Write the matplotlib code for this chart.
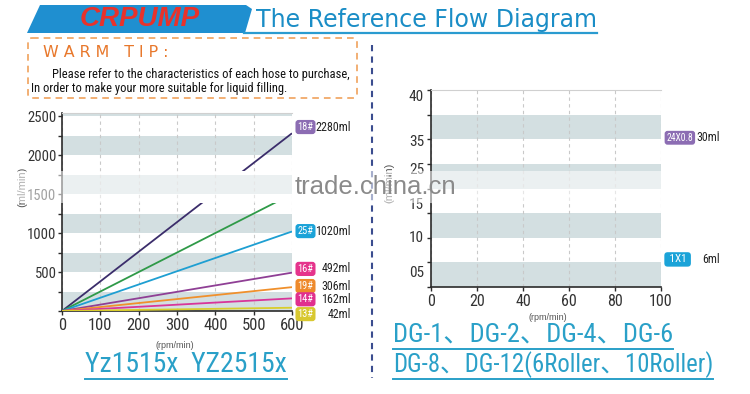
import matplotlib
matplotlib.use("Agg")
import numpy as np
import matplotlib.pyplot as plt
from matplotlib import font_manager as fm
from matplotlib.path import Path
from matplotlib.patches import Polygon, Rectangle, FancyBboxPatch

installed = {f.name for f in fm.fontManager.ttflist}
NARROW = "DejaVu Sans"
for cand in ["Liberation Sans Narrow", "Roboto Condensed", "Archivo Narrow", "PT Sans Narrow"]:
    if cand in installed:
        NARROW = cand
        break
NK = dict(family=NARROW)
SANS = "Liberation Sans" if "Liberation Sans" in installed else "DejaVu Sans"
CJK = [NARROW, "Noto Sans CJK SC", "DejaVu Sans"]

# ---- data (flow at max rpm, lines start at 0) ----
left_rpm_max = 600
left_tags = ["18#", "17#", "25#", "16#", "19#", "14#", "13#"]
left_flow = [2280, 1500, 1020, 492, 306, 162, 42]
left_colors = ["#3b2d6b", "#2f9a48", "#1e9fd2", "#8f3f95", "#f0902c", "#d8369a", "#d9cd2c"]
left_box = ["#8c6db3", None, "#1ba3d8", "#e5348c", "#ee8a2c", "#e0308e", "#d8c830"]
left_label_y = [2360, None, 1025, 540, 320, 150, -40]
left_xticks = [0, 100, 200, 300, 400, 500, 600]
left_yticks = [500, 1000, 1500, 2000, 2500]

right_rpm_max = 100
right_tags = ["24X0.8", "", " 1X1 "]
right_flow = [30, 20, 6]
right_colors = ["#3b2d6b", "#2f9a48", "#1e9fd2"]
right_box = ["#8c6db3", None, "#1ba3d8"]
right_label_y = [30.3, None, 5.6]
right_xticks = [0, 20, 40, 60, 80, 100]
right_ylabels = ["05", "10", "15", "25", "35", "40"]
right_ylabel_pos = [3.2, 10.3, 17, 24, 29.7, 38.8]

W, H = 750, 394
fig = plt.figure(figsize=(7.5, 3.94), dpi=100)
fig.patch.set_facecolor("white")

bg = fig.add_axes([0, 0, 1, 1], zorder=0)
bg.set_xlim(0, W)
bg.set_ylim(H, 0)
bg.axis("off")

fg = fig.add_axes([0, 0, 1, 1], zorder=10)
fg.set_xlim(0, W)
fg.set_ylim(H, 0)
fg.axis("off")
fg.patch.set_visible(False)

fit_list = []  # (text, max width px)

def px_axes(l, r, b, t):
    return fig.add_axes([l / W, 1 - b / H, (r - l) / W, (b - t) / H], zorder=5)

def rect_path(x0, y0, x1, y1):
    return Path([(x0, y0), (x1, y0), (x1, y1), (x0, y1), (x0, y0)],
                [Path.MOVETO, Path.LINETO, Path.LINETO, Path.LINETO, Path.CLOSEPOLY])

band_top, band_bot = 171, 203
clip = Path.make_compound_path(rect_path(0, 0, W, band_top), rect_path(0, band_bot, W, H))

def style_axes(ax, xmax, ymax, step, xticks, xsize):
    ax.set_xlim(0, xmax)
    ax.set_ylim(0, ymax)
    for lo in np.arange(0, ymax, 2 * step):
        ax.axhspan(lo, lo + step, color="#d3dfe1", zorder=0, lw=0)
    ax.set_xticks(xticks)
    ax.set_xticklabels([str(v) for v in xticks], fontsize=xsize, **NK)
    ax.grid(axis="x", color="#c9c9c9", ls=(0, (3, 3)), lw=0.8)
    ax.set_axisbelow(True)
    for s in ["left", "bottom"]:
        ax.spines[s].set_color("#2b2b2b")
        ax.spines[s].set_linewidth(1.2)
    ax.spines["top"].set_color("#d0d0d0")
    ax.spines["top"].set_linewidth(0.8)
    ax.spines["right"].set_visible(False)
    ax.tick_params(axis="both", colors="#2b2b2b", labelcolor="#333333", length=3, width=1)
    ax.tick_params(axis="y", which="minor", length=3, width=1, colors="#2b2b2b")
    ax.tick_params(axis="x", pad=2)

def add_lines(ax, xmax, flows, colors, tags, boxes, label_y, tagsize, tagw):
    for f, c in zip(flows, colors):
        ln, = ax.plot([0, xmax], [0, f], color=c, lw=1.3, zorder=3, solid_capstyle="butt")
        ln.set_clip_path(clip, bg.transData)
    for tag, f, bc, ly in zip(tags, flows, boxes, label_y):
        if ly is None:
            continue
        t = ax.annotate(tag, xy=(xmax, ly), xytext=(4, 0), textcoords="offset points",
                        ha="left", va="center", color="white", fontsize=tagsize, **NK,
                        bbox=dict(boxstyle="round,pad=0.2,rounding_size=0.3", fc=bc, ec="none"),
                        annotation_clip=False)
        fit_list.append((t, tagw))
        s = f"{f}ml"
        t = ax.annotate(s, xy=(xmax, ly), xytext=(42.5, 0), textcoords="offset points",
                        ha="right", va="center", color="#222222", fontsize=9.5, **NK,
                        annotation_clip=False)
        fit_list.append((t, 5.9 * len(s)))

# ---- left chart ----
axL = px_axes(62, 292, 311, 113)
style_axes(axL, left_rpm_max, 2540, 250, left_xticks, 12)
axL.set_yticks(left_yticks)
axL.set_yticks(np.arange(0, 2540, 250), minor=True)
axL.set_yticklabels([str(v) for v in left_yticks], fontsize=10.5, **NK)
axL.tick_params(axis="y", pad=1)
add_lines(axL, left_rpm_max, left_flow, left_colors, left_tags, left_box, left_label_y, 9.5, 16)

# ---- right chart ----
axR = px_axes(431, 661, 287, 90)
style_axes(axR, right_rpm_max, 40, 5, right_xticks, 11.5)
axR.set_yticks(right_ylabel_pos)
axR.set_yticklabels(right_ylabels, fontsize=11, **NK)
axR.tick_params(axis="y", which="major", length=0, pad=5)
axR.set_yticks(np.arange(0, 41, 5), minor=True)
add_lines(axR, right_rpm_max, right_flow, right_colors, right_tags, right_box, right_label_y, 8, 27)

# axis captions
bg.text(175, 345, "(rpm/min)", ha="center", va="center", fontsize=6.5, color="#555555", family=SANS)
bg.text(548, 317, "(rpm/min)", ha="center", va="center", fontsize=6.5, color="#555555", family=SANS)
bg.text(22, 187, "(ml/min)", ha="center", va="center", rotation=90, fontsize=8, color="#555555", family=SANS)
bg.text(389, 183, "(ml/min)", ha="center", va="center", rotation=90, fontsize=8, color="#555555", family=SANS)

# ---- header ----
bg.add_patch(Polygon([(27, 33), (40, 5), (246, 5), (252, 9), (245, 33)], closed=True,
                     fc="#1f8fd0", ec="none"))
bg.text(140, 19, "CRPUMP", ha="center", va="center", fontsize=20, color="#e8322b",
        fontweight="bold", fontstyle="italic", family=SANS)
bg.plot([244, 597], [33, 33], color="#2a9bd0", lw=1.6)
t = bg.text(256, 20, "The Reference Flow Diagram", ha="left", va="center", fontsize=17.5,
            color="#1a8dc6", family="DejaVu Sans")
fit_list.append((t, 341))

# warm tip box
bg.add_patch(FancyBboxPatch((28, 38), 329, 60, boxstyle="round,pad=0,rounding_size=4",
                            fc="none", ec="#f0a25c", lw=1.2, ls=(0, (4, 3))))
t = bg.text(43, 52, "W A R M   T I P :", ha="left", va="center", fontsize=12, color="#e8782c",
            family="DejaVu Sans")
fit_list.append((t, 126))
t = bg.text(52, 74, "Please refer to the characteristics of each hose to purchase,", ha="left",
            va="center", fontsize=9, color="#111111", **NK)
fit_list.append((t, 301))
t = bg.text(31, 88, "In order to make your more suitable for liquid filling.", ha="left",
            va="center", fontsize=9, color="#111111", **NK)
fit_list.append((t, 270))

# divider
bg.plot([372, 372], [45, 378], color="#3b4d8f", lw=1.5, dashes=(3, 2.5))

# ---- bottom titles ----
titles = [(85, 365, "Yz1515x  YZ2515x", 20, 212),
          (393, 335, "DG-1、DG-2、DG-4、DG-6", 19, 287),
          (393, 365, "DG-8、DG-12(6Roller、10Roller)", 19, 320)]
tobjs = []
for x, y, s, fs, w in titles:
    t = bg.text(x, y, s, ha="left", va="center", fontsize=fs, color="#2aa0c8", family=CJK)
    tobjs.append(t)
    fit_list.append((t, w))

# shrink any text that runs wider than the reference
fig.canvas.draw()
for t, w in fit_list:
    bw = t.get_window_extent().width
    if bw > w:
        t.set_fontsize(t.get_fontsize() * w / bw)

fig.canvas.draw()
inv = bg.transData.inverted()
for (x, y, s, fs, w), t in zip(titles, tobjs):
    bb = t.get_window_extent()
    (x0, _), (x1, _) = inv.transform([(bb.x0, bb.y0), (bb.x1, bb.y0)])
    bg.plot([x0, x1], [y + 14, y + 14], color="#2aa0c8", lw=1.4)

# ---- watermark band ----
fg.add_patch(Rectangle((0, band_top), W, band_bot - band_top, fc="white", alpha=0.55, ec="none"))
fg.text(375, 187, "trade.china.cn", ha="center", va="center", fontsize=18.5, color="#8a8a8a", family=SANS)

fig.savefig("out.png", dpi=100, facecolor="white")
